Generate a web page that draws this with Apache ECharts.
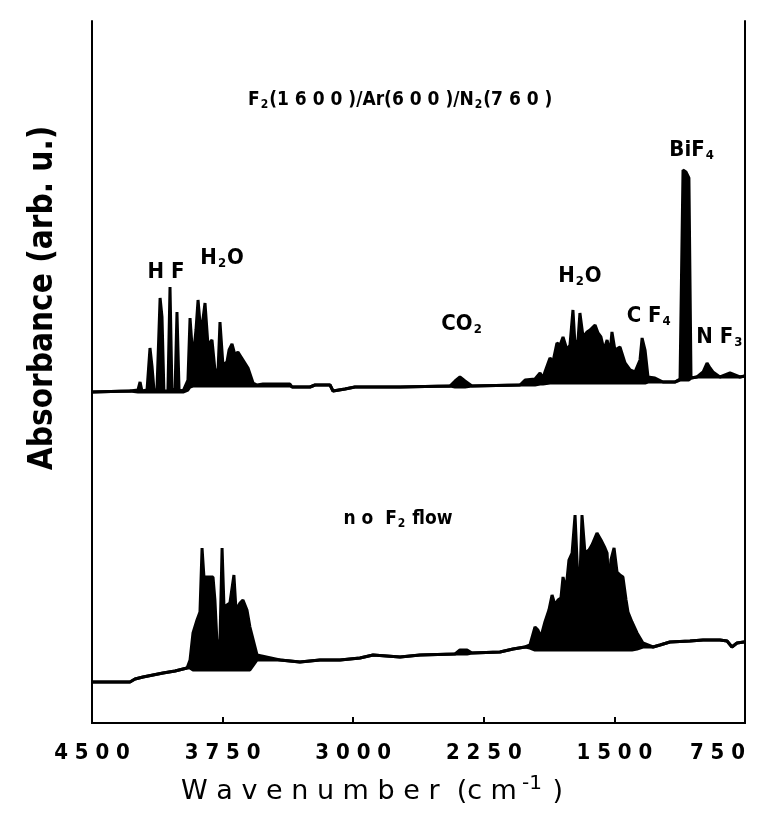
<!DOCTYPE html>
<html>
<head>
<meta charset="utf-8">
<script src="https://cdn.jsdelivr.net/npm/echarts@6/dist/echarts.min.js"></script>
<style>
  html, body { margin: 0; padding: 0; background: #fff; }
  #chart { width: 763px; height: 820px; }
</style>
</head>
<body>
<div id="chart"></div>
<script>
// upper spectrum: F2(1600)/Ar(600)/N2(760)
const wnTop = [4500, 4282, 4236, 4224, 4213, 4184, 4167, 4155, 4144, 4127, 4109, 4098, 4087, 4064, 4052, 4041, 4023, 4012, 4000, 3977,
  3949, 3937, 3920, 3903, 3891, 3874, 3851, 3834, 3811, 3794, 3776, 3765, 3748, 3725, 3713, 3696, 3679, 3662, 3633, 3604,
  3575, 3552, 3518, 3363, 3351, 3248, 3219, 3133, 3116, 3047, 2990, 2731, 2444, 2415, 2387, 2358, 2318, 2042, 2013, 1956,
  1927, 1910, 1899, 1870, 1853, 1830, 1812, 1795, 1772, 1755, 1738, 1726, 1709, 1698, 1680, 1657, 1640, 1611, 1594, 1577,
  1560, 1542, 1525, 1514, 1497, 1468, 1439, 1410, 1382, 1353, 1341, 1324, 1307, 1267, 1221, 1152, 1123, 1106, 1089, 1072,
  1060, 1026, 991, 968, 951, 934, 894, 836, 779, 750];
const absTop = [331, 332, 333, 341, 332, 333, 375, 356, 333, 333, 425, 406, 332, 332, 436, 334, 333, 411, 333, 332,
  343, 405, 363, 393, 423, 388, 420, 378, 383, 353, 353, 401, 358, 361, 373, 379, 368, 371, 363, 355,
  340, 338, 339, 339, 336, 336, 338, 338, 332, 334, 336, 336, 337, 342, 346, 342, 337, 338, 343, 344,
  350, 345, 351, 365, 361, 380, 378, 386, 373, 378, 413, 378, 383, 410, 386, 391, 393, 398, 390, 386,
  373, 383, 370, 391, 373, 376, 360, 353, 351, 363, 385, 373, 346, 345, 341, 341, 344, 553, 551, 545,
  345, 346, 351, 360, 355, 351, 346, 350, 346, 347];
// lower edge of the dense band filling
const floorTop = [331, 332, 331, 331, 331, 331, 331, 331, 331, 331, 331, 331, 331, 331, 331, 331, 331, 331, 331, 331,
  333, 336, 337, 337, 337, 337, 337, 337, 337, 337, 337, 337, 337, 337, 337, 337, 337, 337, 337, 337,
  337, 337, 337, 337, 336, 336, 338, 338, 332, 334, 336, 336, 337, 336, 336, 336, 337, 338, 338, 338,
  339, 339, 339, 340, 340, 340, 340, 340, 340, 340, 340, 340, 340, 340, 340, 340, 340, 340, 340, 340,
  340, 340, 340, 340, 340, 340, 340, 340, 340, 340, 340, 340, 341, 341, 341, 341, 343, 343, 343, 343,
  345, 346, 346, 346, 346, 346, 346, 346, 346, 347];

// lower spectrum: no F2 flow
const wnBot = [4500, 4282, 4253, 4207, 4092, 4023, 3954, 3937, 3920, 3897, 3880, 3868, 3857, 3805, 3794, 3782, 3765, 3753, 3742, 3708,
  3685, 3673, 3650, 3633, 3610, 3593, 3552, 3420, 3306, 3191, 3076, 2961, 2886, 2731, 2616, 2415, 2387, 2346, 2318, 2157,
  2082, 2013, 1985, 1956, 1939, 1922, 1899, 1876, 1858, 1841, 1824, 1807, 1795, 1778, 1761, 1743, 1726, 1709, 1698, 1686,
  1669, 1646, 1629, 1600, 1577, 1554, 1542, 1531, 1520, 1502, 1485, 1468, 1451, 1433, 1422, 1399, 1370, 1336, 1278, 1238,
  1181, 1066, 991, 894, 853, 825, 796, 756, 750];
const absBot = [41, 41, 44, 46, 50, 52, 55, 63, 90, 103, 111, 175, 146, 146, 123, 80, 83, 175, 116, 120,
  148, 113, 120, 123, 113, 96, 68, 63, 61, 63, 63, 65, 68, 66, 68, 69, 73, 73, 70, 71,
  74, 76, 78, 96, 93, 86, 101, 113, 128, 118, 123, 125, 146, 133, 163, 170, 208, 140, 143, 208,
  170, 173, 178, 190, 183, 175, 170, 133, 163, 175, 151, 148, 146, 123, 111, 101, 90, 80, 76, 78,
  81, 82, 83, 83, 82, 76, 80, 81, 81];
const floorBot = [41, 41, 44, 46, 50, 52, 55, 55, 53, 53, 53, 53, 53, 53, 53, 53, 53, 53, 53, 53,
  53, 53, 53, 53, 53, 53, 63, 63, 61, 63, 63, 65, 68, 66, 68, 69, 69, 69, 70, 71,
  74, 76, 75, 73, 73, 73, 73, 73, 73, 73, 73, 73, 73, 73, 73, 73, 73, 73, 73, 73,
  73, 73, 73, 73, 73, 73, 73, 73, 73, 73, 73, 73, 73, 73, 73, 73, 74, 76, 76, 78,
  81, 82, 83, 83, 82, 76, 80, 81, 81];

const xTicks = [4500, 3750, 3000, 2250, 1500, 750];

// peak labels, placed in data units
const noteText = ['{b|F}{s|2}{b|(1 6 0 0 )/Ar(6 0 0 )/N}{s|2}{b|(7 6 0 )}', '{b|H F}', '{b|H}{s|2}{b|O}', '{b|CO}{s|2}',
  '{b|H}{s|2}{b|O}', '{b|C F}{s|4}', '{b|BiF}{s|4}', '{b|N F}{s|3}', '{b|n o  F}{s|2}{b| flow}'];
const noteWn = [2730, 4075, 3753, 2375, 1698, 1300, 1054, 894, 2743];
const noteAbs = [623, 451, 465, 399, 447, 407, 573, 386, 204];

const chart = echarts.init(document.getElementById('chart'));

function fillPair(wn, abs, floor) {
  return [
    {
      type: 'line', data: wn.map((w, i) => [w, abs[i]]), symbol: 'none', silent: true,
      lineStyle: { color: '#000', width: 3 }, areaStyle: { color: '#000', opacity: 1, origin: 'start' }
    },
    {
      type: 'line', data: wn.map((w, i) => [w, floor[i]]), symbol: 'none', silent: true,
      lineStyle: { color: '#000', width: 3 }, areaStyle: { color: '#fff', opacity: 1, origin: 'start' }
    }
  ];
}

const frameAxis = { show: true, lineStyle: { color: '#000', width: 2 } };
const narrow = "'Liberation Sans Narrow', 'DejaVu Sans Condensed', sans-serif";

chart.setOption({
  animation: false,
  backgroundColor: '#fff',
  grid: { left: 92, right: 18, top: 21, bottom: 97, outerBoundsMode: 'none', containLabel: false },
  xAxis: [
    {
      type: 'value', min: 750, max: 4500, interval: 750, inverse: true, z: 10,
      axisLine: frameAxis, splitLine: { show: false },
      axisTick: { inside: true, length: 6, lineStyle: { color: '#000', width: 2 } },
      axisLabel: {
        margin: 19, color: '#000', fontFamily: narrow, fontWeight: 'bold', fontSize: 22,
        alignMinLabel: 'right',
        formatter: (v) => (xTicks.includes(v) ? String(v).split('').join(' ') : '')
      }
    },
    {
      type: 'value', min: 750, max: 4500, inverse: true, position: 'top', z: 10,
      axisLine: frameAxis, axisTick: { show: false }, axisLabel: { show: false }, splitLine: { show: false }
    }
  ],
  yAxis: [
    {
      type: 'value', min: 0, max: 702, z: 10, axisLine: frameAxis,
      axisTick: { show: false }, axisLabel: { show: false }, splitLine: { show: false }
    },
    {
      type: 'value', min: 0, max: 702, position: 'right', z: 10, axisLine: frameAxis,
      axisTick: { show: false }, axisLabel: { show: false }, splitLine: { show: false }
    }
  ],
  series: [...fillPair(wnTop, absTop, floorTop), ...fillPair(wnBot, absBot, floorBot)]
});

const rich = {
  b: { fontFamily: narrow, fontWeight: 'bold', fontSize: 22, color: '#000' },
  s: { fontFamily: narrow, fontWeight: 'bold', fontSize: 13, color: '#000', padding: [12, 1, 0, 1] }
};
const richSmall = {
  b: { fontFamily: narrow, fontWeight: 'bold', fontSize: 19, color: '#000' },
  s: { fontFamily: narrow, fontWeight: 'bold', fontSize: 12, color: '#000', padding: [10, 1, 0, 1] }
};

const notes = noteText.map((t, i) => {
  const p = chart.convertToPixel({ gridIndex: 0 }, [noteWn[i], noteAbs[i]]);
  return {
    type: 'text', x: p[0], y: p[1], z: 20,
    style: { text: t, rich: (i === 0 || i === 8) ? richSmall : rich, align: 'center', verticalAlign: 'middle' }
  };
});

chart.setOption({
  graphic: [
    ...notes,
    {
      type: 'text', x: 43, y: 298, rotation: Math.PI / 2, z: 20,
      style: {
        text: 'Absorbance (arb. u.)', font: "bold 33px 'Liberation Sans Narrow', 'DejaVu Sans Condensed', sans-serif",
        fill: '#000', align: 'center', verticalAlign: 'middle'
      }
    },
    {
      type: 'text', x: 372, y: 792, z: 20,
      style: {
        text: '{t|W a v e n u m b e r  (c m}{p|-1}{t| )}',
        rich: {
          t: { fontFamily: 'DejaVu Sans', fontSize: 27, color: '#000' },
          p: { fontFamily: 'DejaVu Sans', fontSize: 20, color: '#000', padding: [0, 2, 16, 5] }
        },
        align: 'center', verticalAlign: 'middle'
      }
    }
  ]
});

window.addEventListener('resize', () => chart.resize());
</script>
</body>
</html>
